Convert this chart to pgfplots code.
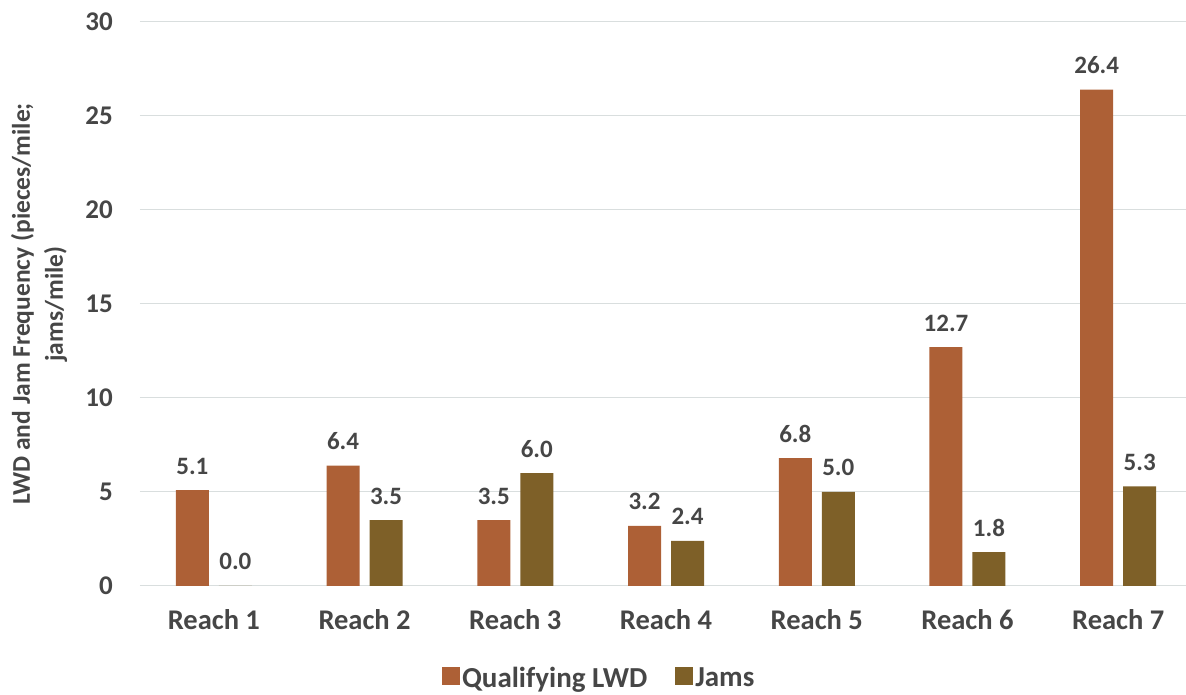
\documentclass[border=0pt]{standalone}
\usepackage{pgfplots}
\pgfplotsset{compat=1.18}
\usepackage{fontspec}
\setmainfont{Carlito}
\definecolor{lwd}{RGB}{173,96,54}
\definecolor{jam}{RGB}{126,96,40}
\definecolor{txt}{RGB}{70,70,70}
\definecolor{grd}{RGB}{217,222,222}
\begin{document}
\begin{tikzpicture}
\path[use as bounding box] (-140pt,-109pt) rectangle (1046pt,586pt);
\begin{axis}[
  scale only axis,
  width=1046pt, height=564pt,
  at={(0,0)}, anchor=south west,
  ybar=10pt, bar width=33pt,
  xmin=-0.49, xmax=6.45,
  ymin=0, ymax=30,
  ytick={0,5,...,30},
  xtick={0,...,6},
  xticklabels={Reach 1,Reach 2,Reach 3,Reach 4,Reach 5,Reach 6,Reach 7},
  axis line style={draw=none},
  major tick length=0pt,
  ymajorgrids, grid style={grd, line width=1pt},
  tick label style={font=\fontsize{27}{30}\selectfont\bfseries, text=txt},
  /pgf/number format/assume math mode=true,
  yticklabel style={anchor=east, inner sep=0pt, xshift=-27pt},
  xticklabel style={anchor=base, inner sep=0pt, yshift=-44pt, font=\fontsize{28.5}{30}\selectfont\bfseries},
  ylabel={LWD and Jam Frequency (pieces/mile;\\ jams/mile)},
  ylabel style={font=\fontsize{25.5}{33}\selectfont\bfseries, text=txt, align=center, at={(axis description cs:0,0.5)}, anchor=center, xshift=0pt, yshift=101pt},
  nodes near coords,
  nodes near coords style={font=\fontsize{25}{28}\selectfont\bfseries, text=txt, /pgf/number format/fixed, /pgf/number format/fixed zerofill, /pgf/number format/precision=1, anchor=base, inner sep=0pt, yshift=16pt},
  legend style={at={(0.439,-0.163)}, anchor=center, draw=none, legend columns=2, font=\fontsize{29}{30}\selectfont\bfseries, text=txt, inner sep=0pt, /tikz/every even column/.append style={column sep=26pt}},
  legend image code/.code={\fill[#1] (0pt,-7pt) rectangle (18pt,11pt);},
]
\addplot[fill=lwd, draw=none] coordinates {(0,5.1) (1,6.4) (2,3.5) (3,3.2) (4,6.8) (5,12.7) (6,26.4)};
\addplot[fill=jam, draw=none] coordinates {(0,0.0) (1,3.5) (2,6.0) (3,2.4) (4,5.0) (5,1.8) (6,5.3)};
\legend{Qualifying LWD, Jams}
\end{axis}
\end{tikzpicture}
\end{document}
